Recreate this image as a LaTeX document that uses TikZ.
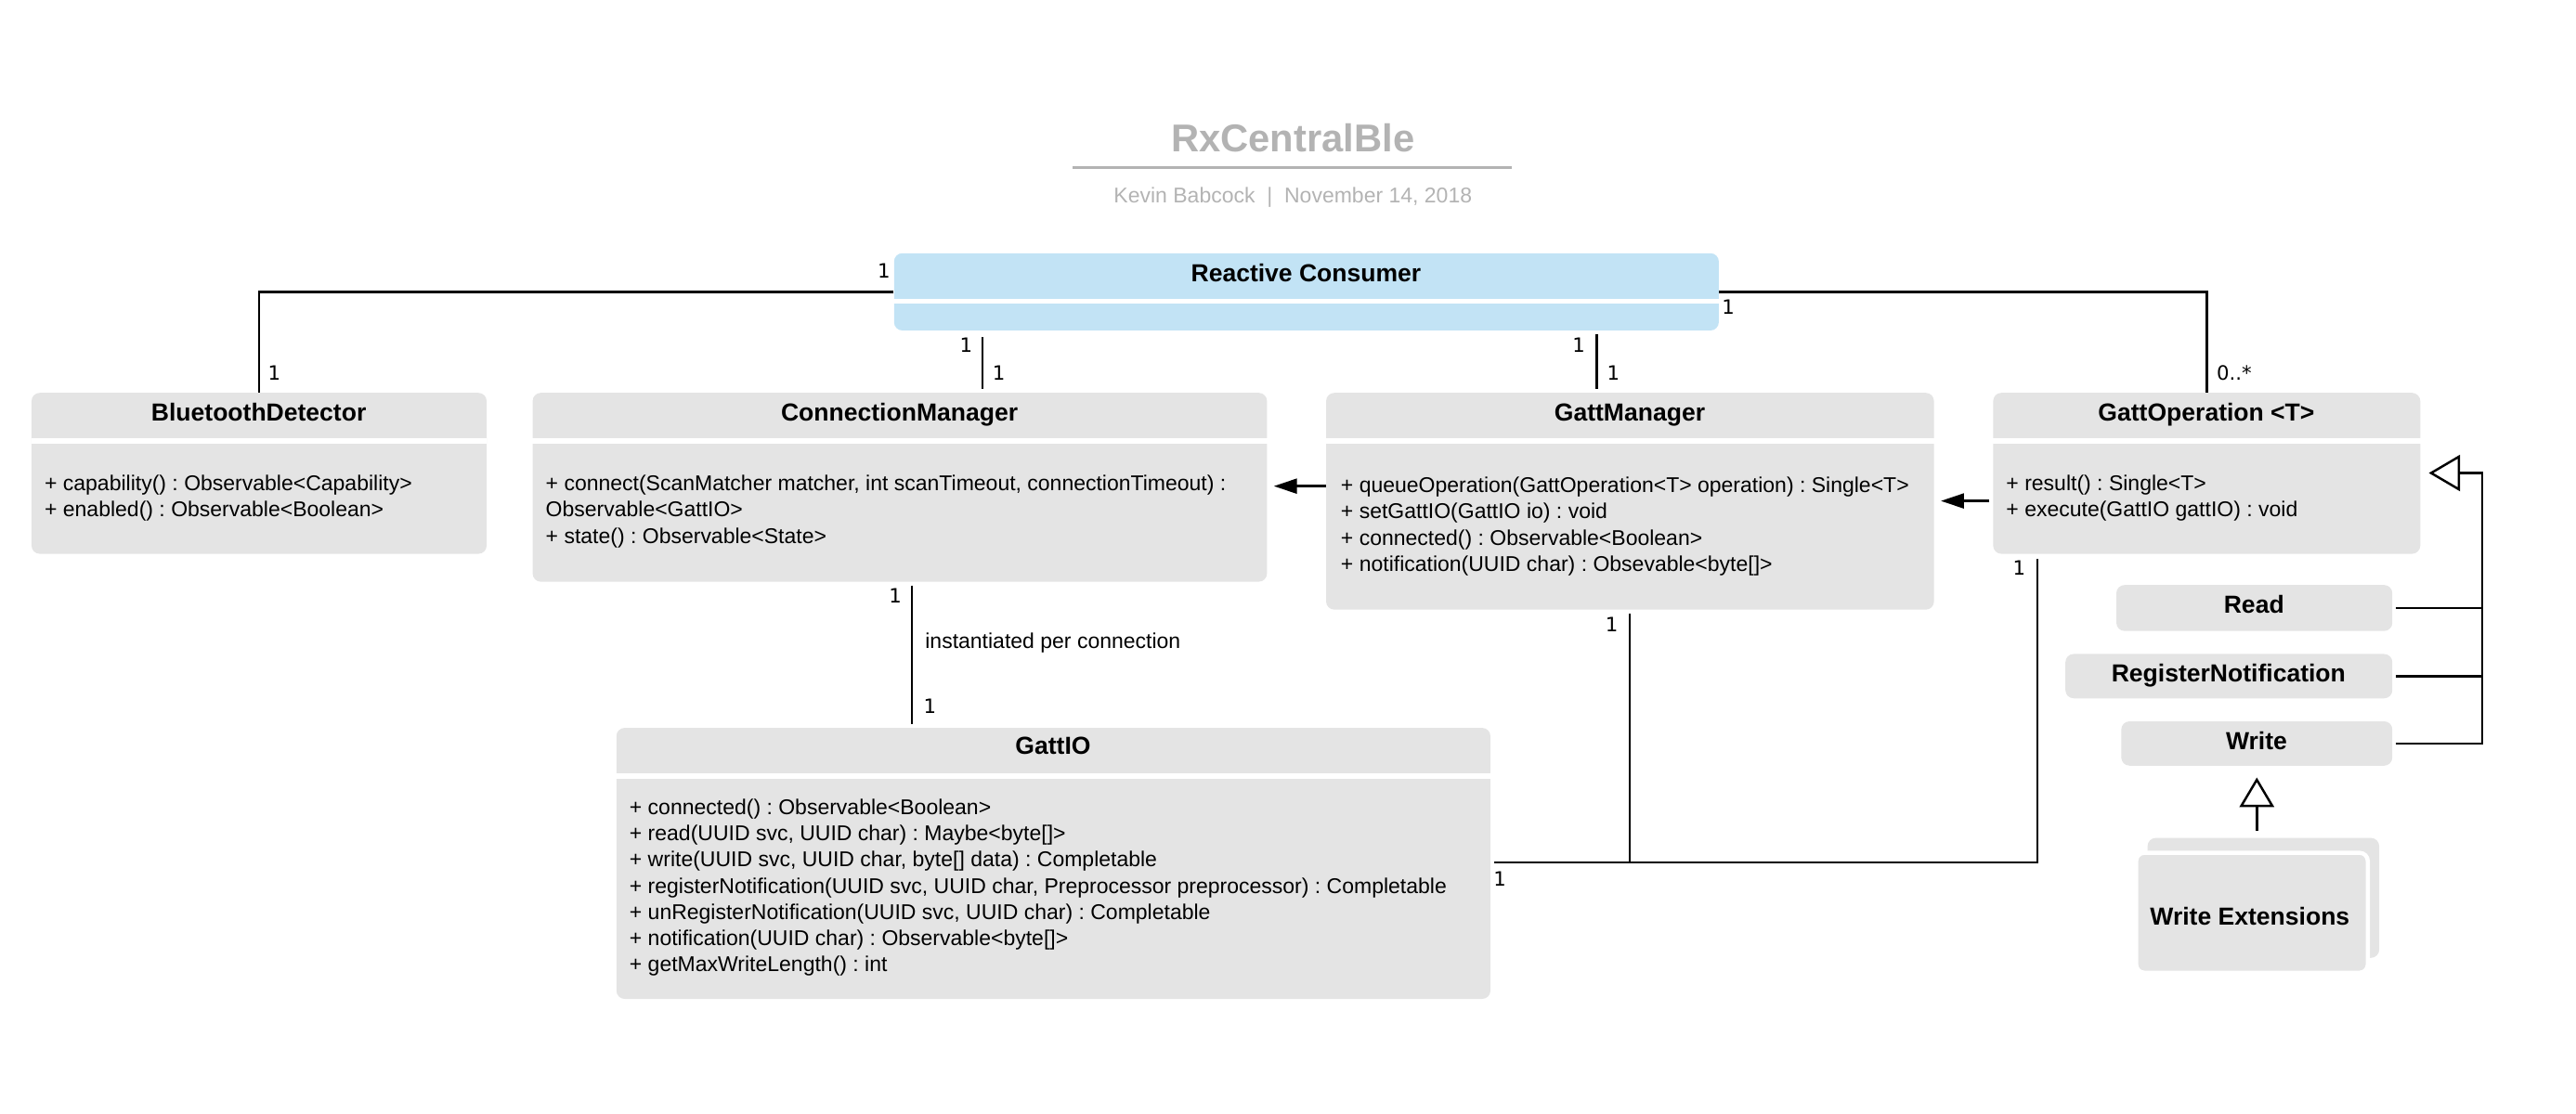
\documentclass[tikz,border=0pt]{standalone}
\usepackage{fontspec}
\setmainfont{Liberation Sans}
\newfontfamily\dvs{DejaVu Sans}
\usetikzlibrary{arrows.meta}
\definecolor{boxgray}{HTML}{E4E4E4}
\definecolor{rcblue}{HTML}{C2E3F5}
\definecolor{ttlgray}{HTML}{B3B3B3}
\newcommand\fl{\rule{0pt}{10pt}}
\newcommand\hsep[1]{\draw[sepline] ([yshift=-29.5pt]#1.north west) -- ([yshift=-29.5pt]#1.north east);}
\frenchspacing
\begin{document}
\frenchspacing
\begin{tikzpicture}[x=1pt,y=-1pt,
 cls/.style={draw=none,fill=boxgray,rounded corners=5pt,inner sep=0pt,anchor=north west},
 hdr/.style={font=\fontsize{15}{18}\selectfont\bfseries,anchor=base,inner sep=0pt},
 body/.style={font=\fontsize{13}{16}\selectfont\frenchspacing,align=left,anchor=north west,inner sep=0pt},
 mult/.style={font=\dvs\fontsize{12}{14}\selectfont,inner sep=0pt},
 conn/.style={line width=1.4pt,black},
 sepline/.style={white,line width=3pt},
 assoc/.style={conn,-{Triangle[length=14pt,width=9pt]}},
 gen/.style={conn,-{Triangle[open,length=19pt,width=22pt,fill=white]}},
]
\useasboundingbox (0,0) rectangle (1568,678);

% title
\node[font=\fontsize{23.6}{28}\selectfont\bfseries,text=ttlgray,anchor=base,inner sep=0pt] (title) at (787,92.4) {RxCentralBle};
\coordinate (ul1) at (653,102);
\coordinate (ul2) at (920,102);
\draw[ttlgray,line width=1.5pt] (ul1) -- (ul2);
\node[font=\fontsize{13}{16}\selectfont\frenchspacing,text=ttlgray,anchor=base,inner sep=0pt] (sub) at (787,123.7) {Kevin Babcock\ \ |\ \ November 14, 2018};

% Reactive Consumer
\node[cls,fill=rcblue,minimum width=502pt,minimum height=47pt] (rc) at (544,154) {};
\hsep{rc}
\node[hdr] (rct) at (795,171.4) {Reactive Consumer};

% BluetoothDetector
\node[cls,minimum width=277pt,minimum height=98pt] (bt) at (19,239) {};
\hsep{bt}
\node[hdr] (btt) at (157.5,256.4) {BluetoothDetector};
\node[body] (btb) at (27,288.6) {\fl+ capability() : Observable<Capability>\\+ enabled() : Observable<Boolean>};

% ConnectionManager
\node[cls,minimum width=447pt,minimum height=115pt] (cm) at (324,239) {};
\hsep{cm}
\node[hdr] (cmt) at (547.5,256.4) {ConnectionManager};
\node[body] (cmb) at (332,288.6) {\fl+ connect(ScanMatcher matcher, int scanTimeout, connectionTimeout) :\\Observable<GattIO>\\+ state() : Observable<State>};

% GattManager
\node[cls,minimum width=370pt,minimum height=132pt] (gm) at (807,239) {};
\hsep{gm}
\node[hdr] (gmt) at (992,256.4) {GattManager};
\node[body] (gmb) at (816,289.6) {\fl+ queueOperation(GattOperation<T> operation) : Single<T>\\+ setGattIO(GattIO io) : void\\+ connected() : Observable<Boolean>\\+ notification(UUID char) : Obsevable<byte[]>};

% GattOperation
\node[cls,minimum width=260pt,minimum height=98pt] (gop) at (1213,239) {};
\hsep{gop}
\node[hdr] (gopt) at (1343,256.4) {GattOperation <T>};
\node[body] (gopb) at (1221,288.6) {\fl+ result() : Single<T>\\+ execute(GattIO gattIO) : void};

% GattIO
\node[cls,minimum width=532pt,minimum height=165pt] (gattio) at (375,443) {};
\hsep{gattio}
\node[hdr] (giot) at (641,459.4) {GattIO};
\node[body] (giob) at (383,485.6) {\fl+ connected() : Observable<Boolean>\\+ read(UUID svc, UUID char) : Maybe<byte[]>\\+ write(UUID svc, UUID char, byte[] data) : Completable\\+ registerNotification(UUID svc, UUID char, Preprocessor preprocessor) : Completable\\+ unRegisterNotification(UUID svc, UUID char) : Completable\\+ notification(UUID char) : Observable<byte[]>\\+ getMaxWriteLength() : int};

% subclasses
\node[cls,minimum width=168pt,minimum height=28pt] (read) at (1288,356) {};
\node[hdr] (readt) at (1372,373.4) {Read};
\node[cls,minimum width=199pt,minimum height=27pt] (rn) at (1257,398) {};
\node[hdr] (rnt) at (1356.5,415.4) {RegisterNotification};
\node[cls,minimum width=165pt,minimum height=27pt] (write) at (1291,439) {};
\node[hdr] (writet) at (1373.5,456.4) {Write};

% Write Extensions (stacked)
\node[cls,minimum width=141pt,minimum height=73pt] (wextb) at (1307,510) {};
\node[cls,draw=white,line width=2.5pt,minimum width=141pt,minimum height=73pt] (wext) at (1299,518) {};
\node[hdr] (wextt) at (1369.5,563.4) {Write Extensions};

% connector helper coordinates
\coordinate (xcm) at (598,0);
\coordinate (xgm) at (972,0);
\coordinate (xio) at (555,0);
\coordinate (xgmb) at (992,0);
\coordinate (xgop) at (1240,0);
\coordinate (ybus) at (0,525);
\coordinate (y1) at (0,296);
\coordinate (y2) at (0,305);
\coordinate (bus) at (1511,288);

% associations
\draw[conn] (rc.west) -| (bt.north);
\draw[conn] (rc.east) -| (gop.north);
\draw[conn,shorten <=4pt,shorten >=2pt] (rc.south -| xcm) -- (cm.north -| xcm);
\draw[conn,shorten <=2pt,shorten >=2pt] (rc.south -| xgm) -- (gm.north -| xgm);
\draw[conn,shorten <=2pt,shorten >=2pt] (cm.south -| xio) -- (gattio.north -| xio);
\draw[conn,shorten <=2pt] (gm.south -| xgmb) -- (ybus -| xgmb);
\draw[conn,shorten <=3pt,shorten >=2pt] (gop.south -| xgop) |- (gattio.east |- ybus);
\draw[assoc,shorten >=4pt] (gm.west |- y1) -- (cm.east |- y1);
\draw[assoc,shorten <=2pt,shorten >=4pt] (gop.west |- y2) -- (gm.east |- y2);

% generalizations
\draw[conn,shorten <=2pt] (read.east) -- (read.east -| bus);
\draw[conn,shorten <=2pt] (rn.east) -- (rn.east -| bus);
\draw[gen,shorten <=2pt,shorten >=5pt] (write.east) -| (bus) -- (gop.east |- bus);
\draw[conn,-{Triangle[open,length=18pt,width=21pt,fill=white]},shorten <=4pt,shorten >=7pt] (wextb.north -| write.south) -- (write.south);

% multiplicities
\node[mult] (m1) at (538,165) {1};
\node[mult] (m2) at (167,227) {1};
\node[mult] (m3) at (588,210) {1};
\node[mult] (m4) at (608,227) {1};
\node[mult] (m5) at (961,210) {1};
\node[mult] (m6) at (982,227) {1};
\node[mult] (m7) at (1052,187) {1};
\node[mult] (m8) at (1360,227) {0..*};
\node[mult] (m9) at (545,363) {1};
\node[mult] (m10) at (566,430) {1};
\node[mult] (m11) at (981,380) {1};
\node[mult] (m12) at (913,535) {1};
\node[mult] (m13) at (1229,346) {1};
\node[font=\fontsize{13}{16}\selectfont,anchor=base west,inner sep=0pt] (inst) at (563,394.7) {instantiated per connection};
\end{tikzpicture}
\end{document}
